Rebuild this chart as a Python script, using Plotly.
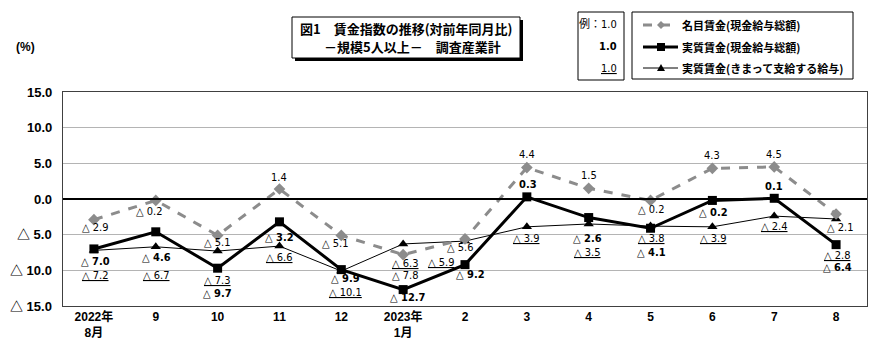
import plotly.graph_objects as go

categories = ["2022年<br>8月", "9", "10", "11", "12", "2023年<br>1月", "2", "3", "4", "5", "6", "7", "8"]
nominal = [-2.9, -0.2, -5.1, 1.4, -5.1, -7.8, -5.6, 4.4, 1.5, -0.2, 4.3, 4.5, -2.1]
real_total = [-7.0, -4.6, -9.7, -3.2, -9.9, -12.7, -9.2, 0.3, -2.6, -4.1, -0.2, 0.1, -6.4]
real_sched = [-7.2, -6.7, -7.3, -6.6, -10.1, -6.3, -5.9, -3.9, -3.5, -3.8, -3.9, -2.4, -2.8]
y_ticks = [15, 10, 5, 0, -5, -10, -15]

# label offsets in pixels (xshift, yshift downwards)
nominal_off = [(2, 8), (-6, 11), (0, 7), (0, -12), (-6, 8), (2, 21), (-5, 9), (0, -13), (0, -13), (1, 9), (0, -13), (0, -12), (4, 14)]
real_off = [(2, 13), (1, 26), (0, 25), (0, 16), (4, 9), (5, 8), (5, 10), (1, -12), (-1, 21), (1, 24), (1, 12), (0, -12), (1, 23)]
sched_off = [(2, 25), (1, 29), (0, 29), (0, 11), (4, 21), (2, 20), (-24, 21), (0, 12), (-1, 29), (1, 12), (1, 12), (0, 10), (1, 37)]

LFONT = "DejaVu Sans Condensed, Liberation Sans Narrow, Arial Narrow, Liberation Sans, Noto Sans CJK JP"
TFONT = "Liberation Sans, Noto Sans CJK JP"

def fmt(v):
    return ("△ %.1f" % abs(v)) if v < 0 else ("%.1f" % v)

x = list(range(len(categories)))
fig = go.Figure()
fig.add_trace(go.Scatter(x=x, y=real_sched, mode="lines+markers",
                         line=dict(color="#000000", width=1),
                         marker=dict(symbol="triangle-up", size=9, color="#000000"),
                         showlegend=False))
fig.add_trace(go.Scatter(x=x, y=nominal, mode="lines+markers",
                         line=dict(color="#8c8c8c", width=3, dash="dash"),
                         marker=dict(symbol="diamond", size=9, color="#8c8c8c"),
                         showlegend=False))
fig.add_trace(go.Scatter(x=x, y=real_total, mode="lines+markers",
                         line=dict(color="#000000", width=3),
                         marker=dict(symbol="square", size=9, color="#000000"),
                         showlegend=False))

ann = []
for i in x:
    for vals, offs, kind in ((nominal, nominal_off, "n"), (real_total, real_off, "r"), (real_sched, sched_off, "s")):
        v = vals[i]
        t = fmt(v)
        if kind == "r":
            t = "<b>" + t + "</b>"
        elif kind == "s":
            t = "<u>" + t + "</u>"
        ann.append(dict(x=i, y=v, xref="x", yref="y", text=t, showarrow=False,
                        xshift=offs[i][0], yshift=-offs[i][1],
                        font=dict(family=LFONT, size=11, color="#000000")))

# paper coordinate helpers
L, R, T, B = 63, 867, 92, 306
def px(xp):
    return (xp - L) / (R - L)
def py(yp):
    return (B - yp) / (B - T)

# y tick labels as annotations (right aligned near the axis)
for v in y_ticks:
    ann.append(dict(xref="paper", yref="y", x=px(54), y=v, text="<b>" + fmt(v) + "</b>", showarrow=False,
                    xanchor="right", yanchor="middle", font=dict(family=TFONT, size=13, color="#000000")))

shapes = []
# zero line
shapes.append(dict(type="line", xref="paper", yref="y", x0=0, x1=1, y0=0, y1=0,
                   line=dict(color="#000000", width=2)))
# title box with shadow
shapes.append(dict(type="rect", xref="paper", yref="paper", x0=px(295), x1=px(523), y0=py(20), y1=py(61),
                   fillcolor="#000000", line=dict(width=0), layer="above"))
shapes.append(dict(type="rect", xref="paper", yref="paper", x0=px(292), x1=px(520), y0=py(17), y1=py(58),
                   fillcolor="#ffffff", line=dict(color="#000000", width=1), layer="above"))
# example box
shapes.append(dict(type="rect", xref="paper", yref="paper", x0=px(578), x1=px(624), y0=py(12), y1=py(80),
                   fillcolor="#ffffff", line=dict(color="#000000", width=1), layer="above"))
# legend box
shapes.append(dict(type="rect", xref="paper", yref="paper", x0=px(632), x1=px(853), y0=py(12), y1=py(79),
                   fillcolor="#ffffff", line=dict(color="#000000", width=1), layer="above"))
# legend samples
leg_y = [25, 47, 68]
shapes.append(dict(type="line", xref="paper", yref="paper", x0=px(643), x1=px(678), y0=py(leg_y[0]), y1=py(leg_y[0]),
                   line=dict(color="#8c8c8c", width=3, dash="dash"), layer="above"))
shapes.append(dict(type="line", xref="paper", yref="paper", x0=px(643), x1=px(678), y0=py(leg_y[1]), y1=py(leg_y[1]),
                   line=dict(color="#000000", width=3), layer="above"))
shapes.append(dict(type="line", xref="paper", yref="paper", x0=px(643), x1=px(678), y0=py(leg_y[2]), y1=py(leg_y[2]),
                   line=dict(color="#000000", width=1), layer="above"))

def marker_path(cx, cy, kind):
    if kind == "diamond":
        return f"M{px(cx)},{py(cy-4)} L{px(cx+4)},{py(cy)} L{px(cx)},{py(cy+4)} L{px(cx-4)},{py(cy)} Z"
    if kind == "square":
        return f"M{px(cx-4)},{py(cy-4)} L{px(cx+4)},{py(cy-4)} L{px(cx+4)},{py(cy+4)} L{px(cx-4)},{py(cy+4)} Z"
    return f"M{px(cx)},{py(cy-4)} L{px(cx+4)},{py(cy+3)} L{px(cx-4)},{py(cy+3)} Z"
for yy, kind, col in ((leg_y[0], "diamond", "#8c8c8c"), (leg_y[1], "square", "#000000"), (leg_y[2], "tri", "#000000")):
    shapes.append(dict(type="path", xref="paper", yref="paper", path=marker_path(661, yy, kind),
                       fillcolor=col, line=dict(color=col, width=0), layer="above"))

leg_text = ["名目賃金(現金給与総額)", "実質賃金(現金給与総額)", "実質賃金(きまって支給する給与)"]
for yy, t in zip(leg_y, leg_text):
    ann.append(dict(xref="paper", yref="paper", x=px(680), y=py(yy), text="<b>" + t + "</b>", showarrow=False,
                    xanchor="left", yanchor="middle", font=dict(family="Noto Sans CJK JP", size=11, color="#000000")))

# example texts
ann.append(dict(xref="paper", yref="paper", x=px(619), y=py(24), text="例：1.0", showarrow=False,
                xanchor="right", yanchor="middle", font=dict(family=LFONT, size=11, color="#000000")))
ann.append(dict(xref="paper", yref="paper", x=px(619), y=py(47), text="<b>1.0</b>", showarrow=False,
                xanchor="right", yanchor="middle", font=dict(family=LFONT, size=11, color="#000000")))
ann.append(dict(xref="paper", yref="paper", x=px(619), y=py(68), text="<u>1.0</u>", showarrow=False,
                xanchor="right", yanchor="middle", font=dict(family=LFONT, size=11, color="#000000")))

# title
ann.append(dict(xref="paper", yref="paper", x=px(298), y=py(28), text="<b>図1　賃金指数の推移(対前年同月比)</b>",
                showarrow=False, xanchor="left", yanchor="middle",
                font=dict(family="Noto Sans CJK JP", size=13, color="#000000")))
ann.append(dict(xref="paper", yref="paper", x=px(322), y=py(47), text="<b>－規模5人以上－　調査産業計</b>",
                showarrow=False, xanchor="left", yanchor="middle",
                font=dict(family="Noto Sans CJK JP", size=13, color="#000000")))
# unit
ann.append(dict(xref="paper", yref="paper", x=px(25), y=py(47), text="<b>(%)</b>", showarrow=False,
                xanchor="center", yanchor="middle", font=dict(family=TFONT, size=12, color="#000000")))

fig.update_layout(
    width=890, height=353,
    margin=dict(l=L, r=890 - R, t=T, b=353 - B),
    paper_bgcolor="#ffffff", plot_bgcolor="#ffffff",
    shapes=shapes, annotations=ann,
    xaxis=dict(range=[-0.5, len(categories) - 0.5], tickmode="array", tickvals=x,
               ticktext=["<b>" + c + "</b>" for c in categories], showgrid=False,
               showline=True, linecolor="#404040", linewidth=1, mirror=True, zeroline=False,
               ticks="", tickfont=dict(family=TFONT, size=12, color="#000000"), fixedrange=True),
    yaxis=dict(range=[-15, 15], tickmode="array", tickvals=y_ticks, showticklabels=False,
               showgrid=True, gridcolor="#b4b4b4", gridwidth=1, zeroline=False,
               showline=True, linecolor="#404040", linewidth=1, mirror=True,
               ticks="", fixedrange=True),
    showlegend=False,
)

fig.write_html("out.html")
